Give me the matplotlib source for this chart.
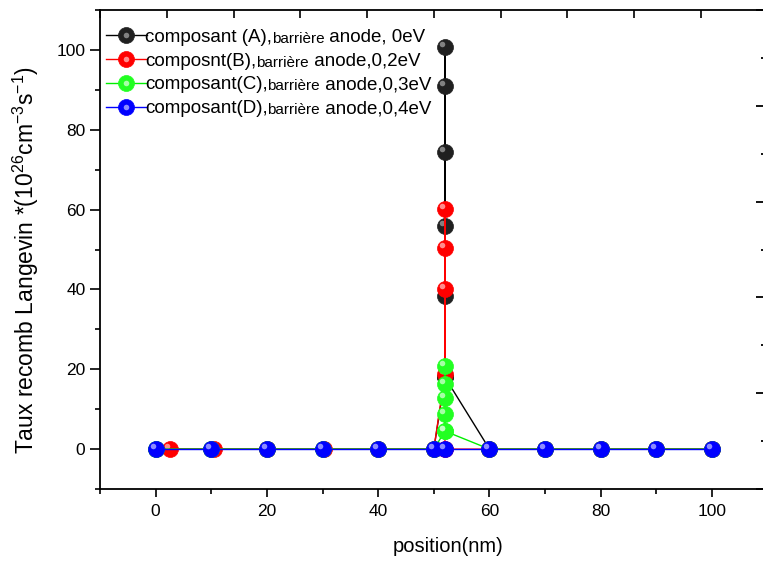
import numpy as np
import matplotlib
matplotlib.use("Agg")
import matplotlib.pyplot as plt
from matplotlib.transforms import ScaledTranslation
from matplotlib.legend_handler import HandlerTuple
from matplotlib.ticker import MultipleLocator

plt.rcParams['font.family'] = ['Liberation Sans', 'DejaVu Sans']
plt.rcParams['mathtext.fontset'] = 'custom'
plt.rcParams['mathtext.rm'] = 'Liberation Sans'
plt.rcParams['mathtext.it'] = 'Liberation Sans:italic'

# position (nm) / taux de recombinaison (1e26 cm-3 s-1)
x_a = [0, 10, 20, 30, 40, 50, 52, 52, 52, 52, 52, 52, 52, 60, 70, 80, 90, 100]
y_a = [0, 0, 0, 0, 0, 0, 18, 38.3, 56, 74.5, 91, 100.8, 18, 0, 0, 0, 0, 0]

x_b = [2.5, 10.4, 20, 30.3, 40, 50, 52, 52, 52, 52, 52, 60, 70, 80, 90, 100]
y_b = [0, 0, 0, 0, 0, 0, 18.8, 40, 50.3, 60.1, 0, 0, 0, 0, 0, 0]

x_c = [0, 10, 20, 30, 40, 50, 52, 52, 52, 52, 52, 52, 60, 70, 80, 90, 100]
y_c = [0, 0, 0, 0, 0, 0, 4.5, 8.8, 12.8, 16.2, 20.9, 4.5, 0, 0, 0, 0, 0]

x_d = [0, 10, 20, 30, 40, 50, 52, 60, 70, 80, 90, 100]
y_d = [0, 0, 0, 0, 0, 0, 0, 0, 0, 0, 0, 0]

labels_head = ["composant (A),", "composnt(B),", "composant(C),", "composant(D),"]
labels_small = ["barrière", "barrière", "barrière", "barrière"]
labels_tail = [" anode, 0eV", " anode,0,2eV", " anode,0,3eV", " anode,0,4eV"]

series = [(x_a, y_a, '#000000', '#202020', '#9a9a9a'),
          (x_b, y_b, '#ff0000', '#ff0000', '#ffb0b0'),
          (x_c, y_c, '#00ee00', '#22ff22', '#c8ffc8'),
          (x_d, y_d, '#0000ff', '#0000ff', '#b0b0ff')]

fig = plt.figure(figsize=(7.63, 5.63), dpi=100)
ax = fig.add_axes([0.1311, 0.1314, 0.875, 0.8508])

ms = 11.5
shift = ScaledTranslation(-2.2 / 72, 2.2 / 72, fig.dpi_scale_trans)
handles = []
for x, y, lc, fc, hc in series:
    ln, = ax.plot(x, y, '-', color=lc, lw=1, marker='o', ms=ms,
                  mfc=fc, mec=fc, mew=0.5)
    ax.plot(x, y, ls='none', marker='o', ms=4, mfc=hc, mec='none',
            alpha=0.8, transform=ax.transData + shift)
    hl, = ax.plot([], [], ls='none', marker='o', ms=4, mfc=hc, mec='none', alpha=0.8)
    handles.append((ln, hl))

ax.set_xlim(-10, 110)
ax.set_ylim(-10, 110)
ax.xaxis.set_major_locator(MultipleLocator(20))
ax.xaxis.set_minor_locator(MultipleLocator(10))
ax.yaxis.set_major_locator(MultipleLocator(20))
ax.yaxis.set_minor_locator(MultipleLocator(10))
ax.tick_params(which='major', direction='out', length=7, width=1.2, labelsize=12.5)
ax.tick_params(which='minor', direction='out', length=3.5, width=1.2)
ax.tick_params(axis='x', which='major', length=6, pad=5)
for s in ax.spines.values():
    s.set_linewidth(1.3)

ax.set_xlabel("position(nm)", fontsize=14.5)
ax.xaxis.set_label_coords(0.522, -0.1)
ax.set_ylabel(r"Taux recomb Langevin *(10$\mathregular{^{26}}$cm$\mathregular{^{-3}}$s$\mathregular{^{-1}}$)",
              fontsize=16.5)
ax.yaxis.set_label_coords(-0.088, 0.478)

# axes du calque superieur (graduations seulement)
top = ax.twiny()
top.set_xlim(-1, 9)
top.xaxis.set_major_locator(MultipleLocator(1))
top.tick_params(axis='x', direction='in', length=6, width=1.2, labeltop=False)
right = ax.twinx()
right.set_ylim(0, 5)
right.yaxis.set_major_locator(MultipleLocator(1))
right.yaxis.set_minor_locator(MultipleLocator(0.5))
right.tick_params(axis='y', which='major', direction='in', length=8.4, width=1.3, labelright=False)
right.tick_params(axis='y', which='minor', direction='in', length=4.8, width=1.3)
for a in (top, right):
    for s in a.spines.values():
        s.set_visible(False)

leg = ax.legend(handles, labels_head, handler_map={tuple: HandlerTuple(ndivide=1)},
                loc='upper left', bbox_to_anchor=(-0.003, 0.977), frameon=False,
                fontsize=13.5, handlelength=2.2, handletextpad=-0.1,
                labelspacing=0.36, borderaxespad=0.1, borderpad=0.3)
leg.set_zorder(5)
for t, sm, tl in zip(leg.get_texts(), labels_small, labels_tail):
    a1 = ax.annotate(sm, xy=(1, 0), xycoords=t, va='bottom', ha='left',
                     fontsize=11, zorder=6, annotation_clip=False)
    ax.annotate(tl, xy=(1, 0), xycoords=(a1, t), va='bottom', ha='left',
                fontsize=13.5, zorder=7, annotation_clip=False)

fig.savefig("out.png", dpi=100)
